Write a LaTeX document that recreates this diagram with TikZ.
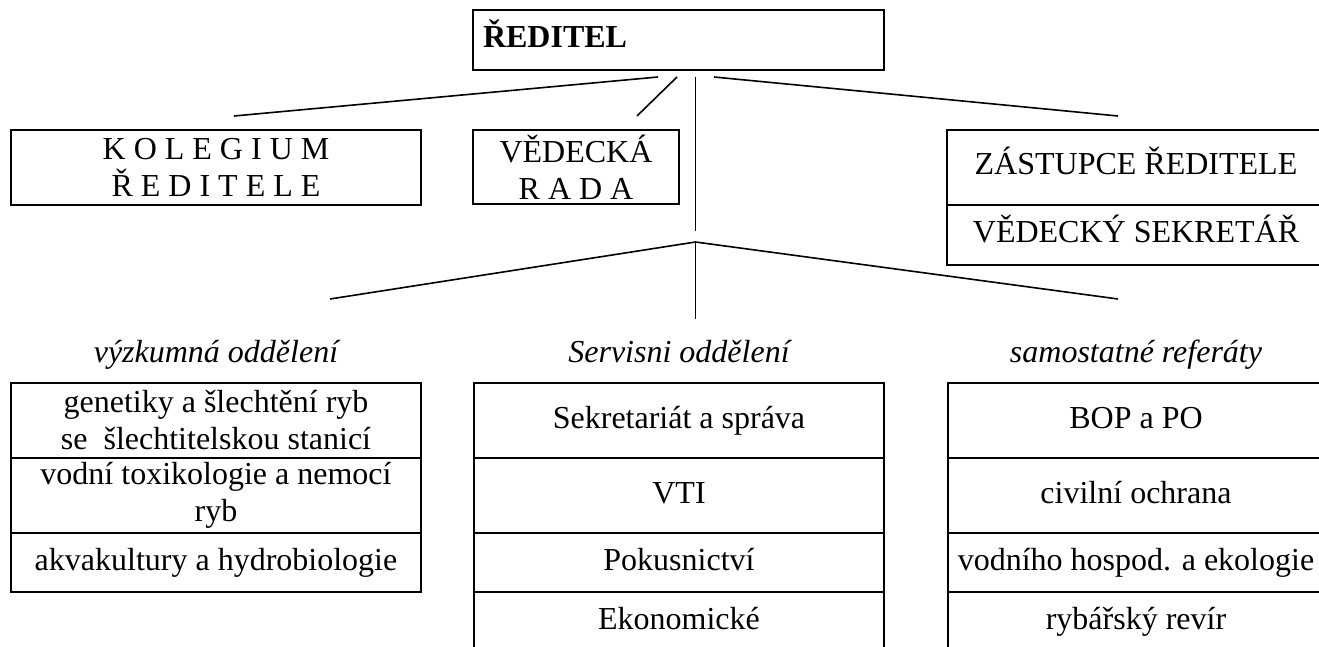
\documentclass[tikz,border=0pt]{standalone}
\usepackage{fontspec}
\setmainfont{Liberation Serif}
\newcommand\fsz{\fontsize{32}{37}\selectfont}
\begin{document}
\begin{tikzpicture}[x=1pt,y=-1pt,
  box/.style={draw, line width=2pt, inner sep=0pt, outer sep=0pt, align=center, font=\fsz},
  one/.style={text height=22pt, text depth=7pt},
  conn/.style={line width=1.6pt},
  lab/.style={inner sep=0pt, anchor=base, font=\fsz\itshape}]
\useasboundingbox (0,0) rectangle (1319,647);
\clip (0,0) rectangle (1319,647);

% top level
\node[box, one, minimum width=411pt, minimum height=60pt, text width=391pt,
      inner xsep=10pt, align=left, font=\fsz\bfseries] (red) at (678.5,40) {ŘEDITEL};
\node[box, minimum width=410pt, minimum height=75pt] (kol) at (216,167.5) {K O L E G I U M\\Ř E D I T E L E};
\node[box, minimum width=206pt, minimum height=74pt] (ved) at (576,167) {VĚDECKÁ\\R A D A};
\node[box, one, minimum width=378pt, minimum height=75pt] (zast) at (1136,167.5) {ZÁSTUPCE ŘEDITELE};
\node[box, one, minimum width=378pt, minimum height=60pt, anchor=north] (sekr) at (zast.south) {VĚDECKÝ SEKRETÁŘ};

% connector end points
\coordinate (rk) at (658,77);   \coordinate (kt) at (234,116);
\coordinate (rv) at (677,77);   \coordinate (vt) at (637,116);
\coordinate (rz) at (714,77);   \coordinate (zt) at (1118,116);
\coordinate (rd) at (695.5,77); \coordinate (rdend) at (695.5,231);
\coordinate (J) at (695.5,242);
\coordinate (lv) at (330,299);  \coordinate (rr) at (1118,299);
\coordinate (sv) at (695.5,319);

\draw[conn] (rk) -- (kt);
\draw[conn] (rv) -- (vt);
\draw[conn] (rz) -- (zt);
\draw[conn] (rd) -- (rdend);
\draw[conn] (lv) -- (J) -- (rr);
\draw[conn] (J) -- (sv);

% group labels
\node[lab] (vyzk) at (216,362) {výzkumná oddělení};
\node[lab] (serv) at (679,362) {Servisni oddělení};
\node[lab] (samo) at (1136,362) {samostatné referáty};

% left table
\node[box, minimum width=410pt, minimum height=75pt, anchor=north] (g1) at (216,383) {genetiky a šlechtění ryb\\se\ \ šlechtitelskou stanicí};
\node[box, minimum width=410pt, minimum height=75pt, anchor=north] (g2) at (g1.south) {vodní toxikologie a nemocí\\ryb};
\node[box, one, minimum width=410pt, minimum height=59pt, anchor=north] (g3) at (g2.south) {akvakultury a hydrobiologie};

% centre table
\node[box, one, minimum width=410pt, minimum height=75pt, anchor=north] (s1) at (679,383) {Sekretariát a správa};
\node[box, one, minimum width=410pt, minimum height=75pt, anchor=north] (s2) at (s1.south) {VTI};
\node[box, one, minimum width=410pt, minimum height=59pt, anchor=north] (s3) at (s2.south) {Pokusnictví};
\node[box, one, minimum width=410pt, minimum height=60pt, anchor=north] (s4) at (s3.south) {Ekonomické};

% right table
\node[box, one, minimum width=376pt, minimum height=75pt, anchor=north] (r1) at (1136,383) {BOP a PO};
\node[box, one, minimum width=376pt, minimum height=75pt, anchor=north] (r2) at (r1.south) {civilní ochrana};
\node[box, one, minimum width=376pt, minimum height=59pt, anchor=north] (r3) at (r2.south) {vodního hospod. a ekologie};
\node[box, one, minimum width=376pt, minimum height=60pt, anchor=north] (r4) at (r3.south) {rybářský revír};
\end{tikzpicture}
\end{document}
